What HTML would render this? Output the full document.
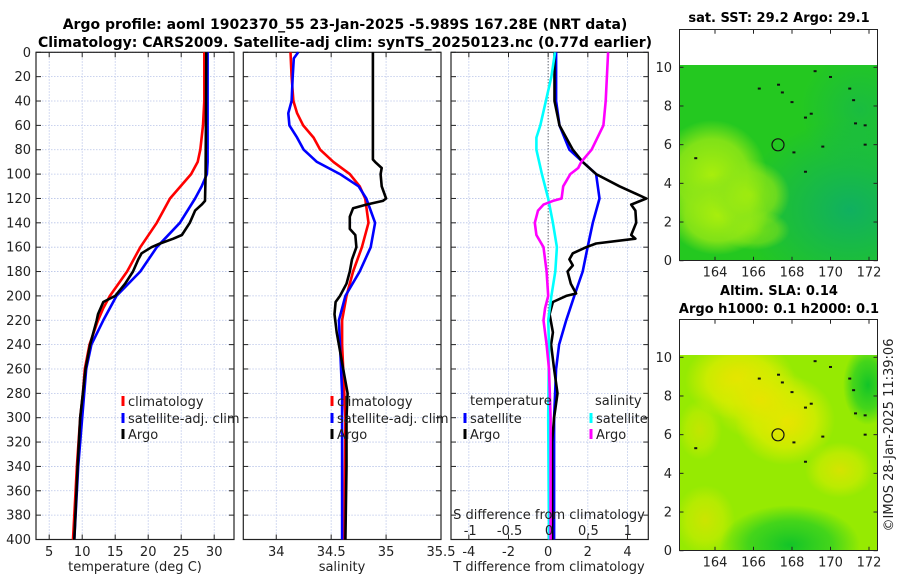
<!DOCTYPE html>
<html><head><meta charset="utf-8">
<style>
html,body{margin:0;padding:0;background:#fff;}
svg{display:block;font-family:"DejaVu Sans","Liberation Sans",sans-serif;}
</style></head>
<body>
<svg id="fig" width="900" height="580" viewBox="0 0 900 580" xmlns="http://www.w3.org/2000/svg">
<defs>
<clipPath id="cm1"><rect x="679.5" y="65" width="198" height="195.7"/></clipPath>
<clipPath id="cm2"><rect x="679.5" y="355" width="198" height="195.7"/></clipPath>
<radialGradient id="g1a"><stop offset="0" stop-color="#a8ee0c"/><stop offset="0.65" stop-color="#90e616" stop-opacity="0.85"/><stop offset="1" stop-color="#8ee618" stop-opacity="0"/></radialGradient>
<radialGradient id="g1b"><stop offset="0" stop-color="#10b060"/><stop offset="1" stop-color="#10b060" stop-opacity="0"/></radialGradient>
<radialGradient id="g2a"><stop offset="0" stop-color="#f0e000"/><stop offset="0.6" stop-color="#d8ec00" stop-opacity="0.8"/><stop offset="1" stop-color="#d8ec00" stop-opacity="0"/></radialGradient>
<radialGradient id="g2b"><stop offset="0" stop-color="#12c428"/><stop offset="0.6" stop-color="#30d020" stop-opacity="0.8"/><stop offset="1" stop-color="#30d020" stop-opacity="0"/></radialGradient>
</defs>
<g id="titles">
<text x="345" y="29" text-anchor="middle" font-size="14" font-weight="bold">Argo profile: aoml 1902370_55 23-Jan-2025 -5.989S 167.28E (NRT data)</text>
<text x="345" y="47" text-anchor="middle" font-size="14" font-weight="bold">Climatology: CARS2009. Satellite-adj clim: synTS_20250123.nc (0.77d earlier)</text>
</g>
<g id="plots"></g>
<g id="maps">
<rect x="679.5" y="29.5" width="198" height="231" fill="#fff" stroke="none"/>
<g clip-path="url(#cm1)">
<rect x="679" y="65" width="200" height="196" fill="#24c820"/>
<ellipse cx="850" cy="210" rx="110" ry="90" fill="url(#g1b)"/>
<ellipse cx="860" cy="110" rx="60" ry="60" fill="url(#g1b)" opacity="0.5"/>
<ellipse cx="712" cy="175" rx="55" ry="55" fill="url(#g1a)"/>
<ellipse cx="718" cy="215" rx="50" ry="40" fill="url(#g1a)"/>
<ellipse cx="750" cy="195" rx="40" ry="35" fill="url(#g1a)" opacity="0.8"/>
<ellipse cx="755" cy="230" rx="35" ry="20" fill="url(#g1a)" opacity="0.6"/>
</g>
<rect x="679.5" y="29.5" width="198" height="231" fill="none" stroke="#222" stroke-width="1"/>
<text x="779" y="22" text-anchor="middle" font-size="13" font-weight="bold">sat. SST: 29.2 Argo: 29.1</text>
<circle cx="778" cy="144.8" r="6" fill="none" stroke="#111" stroke-width="1.2"/>

<rect x="679.5" y="319.5" width="198" height="231" fill="#fff"/>
<g clip-path="url(#cm2)">
<rect x="679" y="355" width="200" height="196" fill="#96ea02"/>
<ellipse cx="740" cy="380" rx="55" ry="40" fill="url(#g2a)"/>
<ellipse cx="785" cy="420" rx="50" ry="45" fill="url(#g2a)"/>
<ellipse cx="760" cy="400" rx="50" ry="40" fill="url(#g2a)" opacity="0.7"/>
<ellipse cx="840" cy="470" rx="35" ry="28" fill="url(#g2a)" opacity="0.7"/>
<ellipse cx="705" cy="520" rx="30" ry="35" fill="url(#g2a)" opacity="0.6"/>
<ellipse cx="700" cy="430" rx="22" ry="30" fill="url(#g2a)" opacity="0.5"/>
<ellipse cx="790" cy="545" rx="70" ry="40" fill="url(#g2b)"/>
<ellipse cx="868" cy="385" rx="25" ry="40" fill="url(#g2b)"/>
</g>
<rect x="679.5" y="319.5" width="198" height="231" fill="none" stroke="#222" stroke-width="1"/>
<text x="779" y="295" text-anchor="middle" font-size="13" font-weight="bold">Altim. SLA: 0.14</text>
<text x="779" y="313" text-anchor="middle" font-size="13" font-weight="bold">Argo h1000: 0.1 h2000: 0.1</text>
<circle cx="778" cy="434.8" r="6" fill="none" stroke="#111" stroke-width="1.2"/>
<text transform="translate(893,435) rotate(-90)" text-anchor="middle" font-size="13" fill="#222">©IMOS 28-Jan-2025 11:39:06</text>
</g>
</svg>
<script>
// ---- data: depths (m) and values ----
const tClimDepth = [0,40,60,80,90,100,120,140,160,180,200,210,220,240,260,280,300,340,400];
const tClimVal   = [28.5,28.5,28.3,27.9,27.5,26.5,23.3,21.3,18.8,16.8,14.2,13.2,12.4,11.1,10.4,10.1,9.7,9.2,8.6];
const tSatDepth  = [0,90,100,110,120,140,160,180,200,220,240,260,300,340,400];
const tSatVal    = [29.0,29.0,28.9,28.1,27.1,24.8,21.3,18.8,15.2,13.2,11.4,10.6,10.0,9.4,8.8];
const tArgoDepth = [0,100,122,125,130,140,150,153,157,160,165,170,180,190,200,205,215,220,240,260,280,300,340,400];
const tArgoVal   = [28.8,28.7,28.6,28.1,27.1,26.3,25.1,23.8,21.8,20.5,19.0,18.5,17.7,16.5,15.0,13.2,12.4,12.2,11.2,10.5,10.1,9.7,9.3,8.8];

const sClimDepth = [0,20,40,50,60,70,80,90,100,110,120,140,160,180,200,220,240,280,300,400];
const sClimVal   = [34.13,34.14,34.156,34.19,34.245,34.34,34.40,34.52,34.67,34.76,34.81,34.84,34.78,34.70,34.64,34.60,34.60,34.62,34.63,34.62];
const sSatDepth  = [0,5,20,40,50,60,70,80,90,100,110,120,140,160,180,200,220,240,280,400];
const sSatVal    = [34.20,34.16,34.15,34.14,34.11,34.12,34.19,34.25,34.37,34.58,34.75,34.82,34.90,34.86,34.76,34.63,34.57,34.58,34.60,34.60];
const sArgoDepth = [0,88,90,95,100,110,120,122,125,128,135,145,150,160,170,180,190,200,205,215,230,240,260,280,300,340,400];
const sArgoVal   = [34.88,34.88,34.90,34.96,34.95,34.96,35.0,34.97,34.82,34.70,34.67,34.67,34.72,34.73,34.69,34.67,34.64,34.58,34.54,34.53,34.55,34.57,34.61,34.65,34.64,34.64,34.63];

const dTSatDepth  = [0,40,60,80,90,100,120,140,160,180,200,220,240,260,300,400];
const dTSatVal    = [0.4,0.4,0.57,1.07,1.74,2.42,2.59,2.25,1.99,1.74,1.32,0.91,0.55,0.4,0.3,0.3];
const dTArgoDepth = [0,40,60,80,90,100,110,120,125,130,140,150,153,157,160,165,170,175,180,190,198,200,205,215,230,240,260,280,300,320,400];
const dTArgoVal   = [0.32,0.32,0.57,1.24,1.74,2.42,3.6,4.95,4.19,4.4,4.44,4.19,4.4,2.42,1.92,1.24,1.07,1.24,0.98,1.14,1.41,0.91,0.24,0.07,0.24,0.15,0.3,0.47,0.3,0.2,0.2];
const dSSatDepth  = [0,20,60,70,80,100,120,140,160,180,200,220,240,300,400];
const dSSatVal    = [0.076,0.03,-0.11,-0.16,-0.16,-0.09,-0.01,0.05,0.1,0.08,0.03,-0.01,0,-0.01,0];
const dSArgoDepth = [0,40,60,80,90,95,100,110,120,122,125,130,140,150,160,180,200,210,220,240,260,300,400];
const dSArgoVal   = [0.75,0.72,0.69,0.54,0.41,0.37,0.27,0.18,0.16,0.05,-0.07,-0.14,-0.18,-0.16,-0.07,-0.03,-0.01,-0.05,-0.07,-0.03,0,0.02,0.02];

const depthTicks = [0,20,40,60,80,100,120,140,160,180,200,220,240,260,280,300,320,340,360,380,400];
const tempTicks  = [5,10,15,20,25,30];
const salTicks   = [34,34.5,35,35.5];
const salTickLabels = ['34','34.5','35','35.5'];
const dTTicks    = [-4,-2,0,2,4];
const dSTicks    = [-1,-0.5,0,0.5,1];
const dSTickLabels = ['-1','-0.5','0','0.5','1'];
const latTicks   = [0,2,4,6,8,10];
const lonTicks   = [164,166,168,170,172];

// ---- scales ----
const Y0 = 52.3, Y1 = 539.5;
const yScale = d => Y0 + (d/400)*(Y1-Y0);
const P1 = {x0:36, x1:234, d0:3, d1:33};
const P2 = {x0:243.3, x1:441, d0:33.7, d1:35.5};
const P3 = {x0:451, x1:648.3, d0:-4.9, d1:5.05};
const mk = p => v => p.x0 + (v-p.d0)/(p.d1-p.d0)*(p.x1-p.x0);
const xT = mk(P1), xS = mk(P2), xDT = mk(P3);
const xDS = v => 549 + v*78.8;

const NS = 'http://www.w3.org/2000/svg';
const root = document.getElementById('plots');
function el(tag, attrs, parent){ const e=document.createElementNS(NS,tag); for(const k in attrs) e.setAttribute(k,attrs[k]); (parent||root).appendChild(e); return e; }

function panel(name, p, xTicks, xLabels, xf, yLabels){
  const g = el('g',{});
  
  
  depthTicks.forEach(d=>{ const l=el('line',{x1:p.x0,x2:p.x1,y1:yScale(d),y2:yScale(d),stroke:'#b8c4e8','stroke-width':0.8,'stroke-dasharray':'1.5,1.5'},g);
      });
  xTicks.forEach(v=>{ const l=el('line',{x1:xf(v),x2:xf(v),y1:Y0,y2:Y1,stroke:'#b8c4e8','stroke-width':0.8,'stroke-dasharray':'1.5,1.5'},g);
      });
  const fr = el('rect',{x:p.x0,y:Y0,width:p.x1-p.x0,height:Y1-Y0,fill:'none',stroke:'#222','stroke-width':1.2},g);
   
  depthTicks.forEach(d=>{ el('line',{x1:p.x0,x2:p.x0+5,y1:yScale(d),y2:yScale(d),stroke:'#222'},g); el('line',{x1:p.x1,x2:p.x1-5,y1:yScale(d),y2:yScale(d),stroke:'#222'},g); });
  xTicks.forEach((v,i)=>{ el('line',{x1:xf(v),x2:xf(v),y1:Y1,y2:Y1-5,stroke:'#222'},g); el('line',{x1:xf(v),x2:xf(v),y1:Y0,y2:Y0+5,stroke:'#222'},g);
    if(xLabels){ const t=el('text',{x:xf(v),y:556,'text-anchor':'middle','font-size':13,fill:'#222'},g); t.textContent=xLabels[i];
        } });
  if(yLabels){ depthTicks.forEach(d=>{ const t=el('text',{x:31,y:yScale(d)+4.5,'text-anchor':'end','font-size':13,fill:'#222'},g); t.textContent=String(d);
        }); }
  return g;
}
function series(g, name, depths, vals, xf, color, w){
  const pts = depths.map((d,i)=>xf(vals[i]).toFixed(1)+','+yScale(d).toFixed(1)).join(' ');
  const l = el('polyline',{points:pts,fill:'none',stroke:color,'stroke-width':w||2.6,'stroke-linejoin':'round'},g);
  
  
}
function txt(g,name,x,y,s,opts){ const t=el('text',Object.assign({x:x,y:y,'font-size':13,fill:'#222'},opts||{}),g); t.textContent=s;
  
   return t; }
function legendRow(g,name,x,y,color,label){
  const r=el('rect',{x:x-1.5,y:y-9,width:3,height:10,fill:color},g);
  
  
  txt(g,name,x+5,y+1,label);
}

const g1 = panel('temperature-panel', P1, tempTicks, tempTicks.map(String), xT, true);
series(g1,'temp-climatology-line',tClimDepth,tClimVal,xT,'#ff0000');
series(g1,'temp-satellite-line',tSatDepth,tSatVal,xT,'#0000ff');
series(g1,'temp-argo-line',tArgoDepth,tArgoVal,xT,'#000000');
txt(g1,'temperature-x-axis-title',135,571,'temperature (deg C)',{'text-anchor':'middle'});
legendRow(g1,'legend-climatology',123,405,'#ff0000','climatology');
legendRow(g1,'legend-satellite-adj',123,422,'#0000ff','satellite-adj. clim');
legendRow(g1,'legend-argo',123,438,'#000000','Argo');

const g2 = panel('salinity-panel', P2, salTicks, salTickLabels, xS, false);
series(g2,'sal-climatology-line',sClimDepth,sClimVal,xS,'#ff0000');
series(g2,'sal-satellite-line',sSatDepth,sSatVal,xS,'#0000ff');
series(g2,'sal-argo-line',sArgoDepth,sArgoVal,xS,'#000000');
txt(g2,'salinity-x-axis-title',342,571,'salinity',{'text-anchor':'middle'});
legendRow(g2,'legend-climatology-2',332,405,'#ff0000','climatology');
legendRow(g2,'legend-satellite-adj-2',332,422,'#0000ff','satellite-adj. clim');
legendRow(g2,'legend-argo-2',332,438,'#000000','Argo');

const g3 = panel('difference-panel', P3, dTTicks, dTTicks.map(String), xDT, false);
const zl = el('line',{x1:xDT(0),x2:xDT(0),y1:Y0,y2:Y1,stroke:'#444','stroke-width':1,'stroke-dasharray':'1,2'},g3);
 
series(g3,'dT-satellite-line',dTSatDepth,dTSatVal,xDT,'#0000ff');
series(g3,'dT-argo-line',dTArgoDepth,dTArgoVal,xDT,'#000000');
series(g3,'dS-satellite-line',dSSatDepth,dSSatVal,xDS,'#00ffff');
series(g3,'dS-argo-line',dSArgoDepth,dSArgoVal,xDS,'#ff00ff');
dSTicks.forEach((v,i)=>{ txt(g3,'s-tick-label',xDS(v),535,dSTickLabels[i],{'text-anchor':'middle'}); });
txt(g3,'s-axis-title',549,519,'S difference from climatology',{'text-anchor':'middle'});
txt(g3,'t-axis-title',549,571,'T difference from climatology',{'text-anchor':'middle'});
txt(g3,'legend-temperature-header',470,405,'temperature');
legendRow(g3,'legend-dT-satellite',465,422,'#0000ff','satellite');
legendRow(g3,'legend-dT-argo',465,438,'#000000','Argo');
txt(g3,'legend-salinity-header',595,405,'salinity');
legendRow(g3,'legend-dS-satellite',591,422,'#00ffff','satellite');
legendRow(g3,'legend-dS-argo',591,438,'#ff00ff','Argo');

const maps = document.getElementById('maps');
const lonX = v => 715 + (v-164)*19.25;
[[260.7,'sst-map'],[550.7,'sla-map']].forEach(([yb,nm])=>{
  const top = yb-231;
  latTicks.forEach(v=>{ const y=yb - v*19.34;
    el('line',{x1:679.5,x2:683.5,y1:y,y2:y,stroke:'#222'},maps); el('line',{x1:877.5,x2:873.5,y1:y,y2:y,stroke:'#222'},maps);
    const t=el('text',{x:672,y:y+4.5,'text-anchor':'end','font-size':13,fill:'#222'},maps); t.textContent=String(v);
      });
  lonTicks.forEach(v=>{ const x=lonX(v);
    el('line',{x1:x,x2:x,y1:yb,y2:yb-4,stroke:'#222'},maps); el('line',{x1:x,x2:x,y1:top,y2:top+4,stroke:'#222'},maps);
    const t=el('text',{x:x,y:yb+16,'text-anchor':'middle','font-size':13,fill:'#222'},maps); t.textContent=String(v);
      });
  [[169.2,9.8],[167.3,9.1],[167.5,8.7],[168,8.2],[168.7,7.4],[169,7.6],[169.6,5.9],[168.1,5.6],[168.7,4.6],[171,8.9],[171.2,8.3],[171.3,7.1],[171.8,7.0],[171.8,6.0],[163,5.3],[166.3,8.9],[170,9.5]].forEach(([lo,la])=>{
    const r=el('rect',{x:lonX(lo)-1.5,y:yb-la*19.34-1,width:3,height:2,fill:'#111'},maps);
      });
});
</script>
</body></html>
